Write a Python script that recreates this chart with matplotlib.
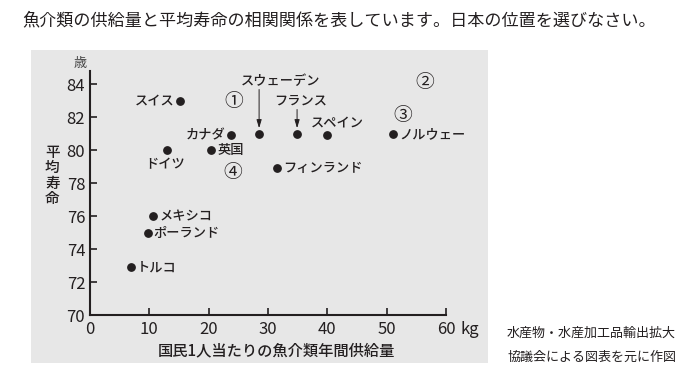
import matplotlib
matplotlib.use('Agg')
import matplotlib.pyplot as plt
from matplotlib.patches import Rectangle

plt.rcParams['font.family'] = ['Noto Sans CJK JP', 'DejaVu Sans']

# data
countries = ['スイス', 'カナダ', 'スウェーデン', 'フランス', 'スペイン', 'ノルウェー',
             '英国', 'ドイツ', 'フィンランド', 'メキシコ', 'ポーランド', 'トルコ']
fish_kg = [15.2, 23.7, 28.5, 34.9, 39.9, 51.1, 20.4, 12.9, 31.6, 10.7, 9.7, 6.9]
life_exp = [83.0, 80.9, 81.0, 81.0, 80.9, 81.0, 80.0, 80.0, 78.9, 76.0, 75.0, 72.9]

choices = ['①', '②', '③', '④']
choice_x = [24.3, 56.4, 52.7, 24.1]
choice_y = [82.95, 84.1, 82.08, 78.65]

x_ticks = [0, 10, 20, 30, 40, 50, 60]
y_ticks = [70, 72, 74, 76, 78, 80, 82, 84]

# label placement: offset in points, alignment
label_pos = {
    'スイス': ((-4.3, 0), 'right', 'center'),
    'カナダ': ((-4, 0), 'right', 'center'),
    'スウェーデン': ((15.6, 37.7), 'center', 'center'),
    'フランス': ((2.4, 24.2), 'center', 'center'),
    'スペイン': ((7.4, 9.6), 'center', 'center'),
    'ノルウェー': ((4.5, 0), 'left', 'center'),
    '英国': ((4.8, 0), 'left', 'center'),
    'ドイツ': ((-1.2, -10), 'center', 'center'),
    'フィンランド': ((4.3, 0), 'left', 'center'),
    'メキシコ': ((4.3, 0), 'left', 'center'),
    'ポーランド': ((4.3, 0), 'left', 'center'),
    'トルコ': ((4.3, 0), 'left', 'center'),
}
arrows = {'スウェーデン': 31.9, 'フランス': 17.5}

ink = '#231f20'
W, H = 700, 381
fig = plt.figure(figsize=(7, 3.81), dpi=100)

# grey panel behind the chart
fig.patches.append(Rectangle((31 / W, 1 - 363 / H), 457 / W, 313 / H,
                             transform=fig.transFigure, facecolor='#e7e7e7',
                             edgecolor='none', zorder=-5))

ax = fig.add_axes([90 / W, 1 - 315.3 / H, 356 / W, 244.2 / H])
ax.set_zorder(2)
ax.patch.set_visible(False)
ax.set_xlim(0, 60)
ax.set_ylim(70, 84.8)

for s in ['top', 'right']:
    ax.spines[s].set_visible(False)
for s in ['left', 'bottom']:
    ax.spines[s].set_color(ink)
    ax.spines[s].set_linewidth(1.5)

ax.set_xticks(x_ticks)
ax.set_yticks(y_ticks)
ax.tick_params(direction='in', length=5, width=1.2, color=ink,
               labelsize=12, labelcolor=ink)
ax.tick_params(axis='x', pad=4)
ax.tick_params(axis='y', pad=3.5)

ax.scatter(fish_kg, life_exp, s=28, color=ink, zorder=3, clip_on=False)

for name, x, y in zip(countries, fish_kg, life_exp):
    off, ha, va = label_pos[name]
    ax.annotate(name, (x, y), xytext=off, textcoords='offset points',
                ha=ha, va=va, fontsize=9.5, fontweight='medium', color=ink)
    if name in arrows:
        ax.annotate('', (x, y), xytext=(0, arrows[name]), textcoords='offset points',
                    arrowprops=dict(arrowstyle='-|>,head_length=0.5,head_width=0.15',
                                    color=ink, lw=0.7, shrinkA=0, shrinkB=4))

for c, x, y in zip(choices, choice_x, choice_y):
    ax.text(x, y, c, fontsize=13.5, ha='center', va='center', color=ink)

# axis texts
fig.text(80 / W, 1 - 64 / H, '歳', fontsize=9.5, color='#444444', ha='center', va='center')
fig.text(52.3 / W, 1 - 176 / H, '平\n均\n寿\n命', fontsize=10.5, fontweight='medium',
         color=ink, ha='center', va='center', linespacing=1.12)
fig.text(460 / W, 1 - 330 / H, 'kg', fontsize=12, color=ink, ha='left', va='center')
fig.text(276.7 / W, 1 - 351 / H, '国民1人当たりの魚介類年間供給量', fontsize=11,
         fontweight='medium', color=ink, ha='center', va='center')

fig.text(22 / W, 1 - 20 / H,
         '魚介類の供給量と平均寿命の相関関係を表しています。日本の位置を選びなさい。',
         fontsize=12.3, color=ink, ha='left', va='center')
fig.text(507 / W, 1 - 333 / H, '水産物・水産加工品輸出拡大', fontsize=9.4,
         color=ink, ha='left', va='center')
fig.text(507 / W, 1 - 357 / H, '協議会による図表を元に作図', fontsize=9.4,
         color=ink, ha='left', va='center')

fig.savefig('out.png', dpi=100)
